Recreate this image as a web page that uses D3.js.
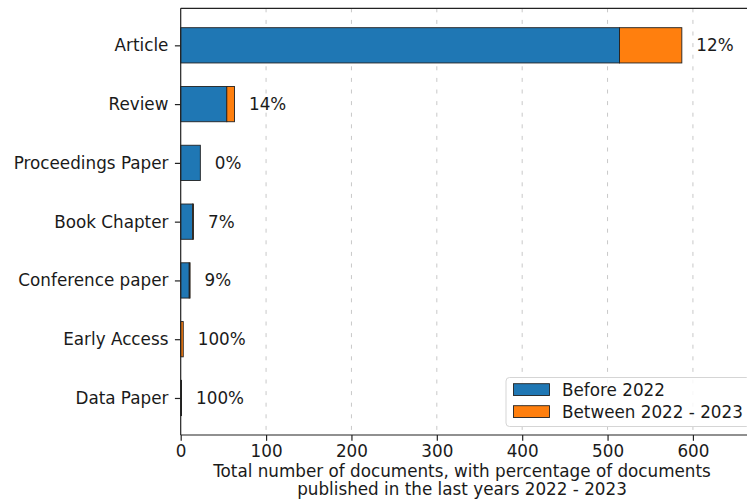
<!DOCTYPE html>
<html>
<head>
<meta charset="utf-8">
<script src="https://cdn.jsdelivr.net/npm/d3@7"></script>
<style>
  html, body { margin: 0; padding: 0; background: #fff; }
  svg { display: block; }
  text { font-family: "DejaVu Sans", sans-serif; fill: #1a1a1a; }
</style>
</head>
<body>
<svg id="chart" width="747" height="501"></svg>
<script>
// Document types and counts per period
const categories = ["Article", "Review", "Proceedings Paper", "Book Chapter", "Conference paper", "Early Access", "Data Paper"];
const before2022 = [514, 54, 23, 14, 10, 0, 0];
const between2022_2023 = [73, 9, 0, 1, 1, 3, 1];
const xTicks = [0, 100, 200, 300, 400, 500, 600];
const seriesNames = ["Before 2022", "Between 2022 - 2023"];
const seriesColors = ["#1f77b4", "#ff7f0e"];
const xLabelLines = ["Total number of documents, with percentage of documents",
                     "published in the last years 2022 - 2023"];

const svg = d3.select("#chart");
const margin = { left: 180.7, top: 8.3, right: 756, bottom: 435 };
const fontSize = 16.8;

const totals = categories.map((c, i) => before2022[i] + between2022_2023[i]);
const xMax = d3.max(totals) * 1.148;

const x = d3.scaleLinear().domain([0, xMax]).range([margin.left, margin.right]);
// category index -> vertical position, with the usual 5% margins around 0.6-wide bars
const barH = 0.6;
const y = d3.scaleLinear()
  .domain([-barH / 2 - 0.33, categories.length - 1 + barH / 2 + 0.33])
  .range([margin.top, margin.bottom]);
const bandPx = y(barH) - y(0);

// vertical dashed grid
svg.append("g").selectAll("line").data(xTicks.filter(t => t > 0)).join("line")
  .attr("x1", d => x(d)).attr("x2", d => x(d))
  .attr("y1", margin.top).attr("y2", margin.bottom)
  .attr("stroke", "#c8c8c8").attr("stroke-width", 1)
  .attr("stroke-dasharray", "4,7.6");

// stacked bars
const bars = svg.append("g");
categories.forEach((c, i) => {
  const yc = y(i);
  const segs = [
    { x0: 0, x1: before2022[i], color: seriesColors[0] },
    { x0: before2022[i], x1: totals[i], color: seriesColors[1] }
  ];
  segs.forEach(s => {
    bars.append("rect")
      .attr("x", x(s.x0)).attr("width", x(s.x1) - x(s.x0))
      .attr("y", yc - bandPx / 2).attr("height", bandPx)
      .attr("fill", s.color).attr("stroke", "#222").attr("stroke-width", 0.9);
  });
  // share of documents from 2022-2023
  const pct = totals[i] ? Math.round(between2022_2023[i] / totals[i] * 100) : 0;
  svg.append("text")
    .attr("x", x(totals[i]) + 14.5).attr("y", yc)
    .attr("dy", "0.36em").attr("font-size", fontSize)
    .text(pct + "%");
});

// axes
const xAxis = d3.axisBottom(x).tickValues(xTicks).tickSize(5.8).tickPadding(4.5).tickFormat(d3.format("d"));
const gx = svg.append("g").attr("transform", `translate(0,${margin.bottom})`).call(xAxis);
gx.select(".domain").remove();
gx.selectAll(".tick line").attr("stroke", "#222").attr("stroke-width", 1.2);
gx.selectAll(".tick text").attr("font-size", fontSize).attr("font-family", "DejaVu Sans").attr("fill", "#1a1a1a");

const yAxis = d3.axisLeft(y).tickValues(d3.range(categories.length)).tickSize(5.8).tickPadding(6.5)
  .tickFormat(i => categories[i]);
const gy = svg.append("g").attr("transform", `translate(${margin.left},0)`).call(yAxis);
gy.select(".domain").remove();
gy.selectAll(".tick line").attr("stroke", "#222").attr("stroke-width", 1.2);
gy.selectAll(".tick text").attr("font-size", fontSize).attr("font-family", "DejaVu Sans").attr("fill", "#1a1a1a");

// spines
const sp = svg.append("g").attr("stroke", "#222").attr("stroke-width", 1.2).attr("fill", "none");
sp.append("line").attr("x1", margin.left).attr("x2", margin.left).attr("y1", margin.top).attr("y2", margin.bottom);
sp.append("line").attr("x1", margin.left).attr("x2", margin.right).attr("y1", margin.bottom).attr("y2", margin.bottom);
sp.append("line").attr("x1", margin.left).attr("x2", margin.right).attr("y1", margin.top).attr("y2", margin.top);
sp.append("line").attr("x1", margin.right).attr("x2", margin.right).attr("y1", margin.top).attr("y2", margin.bottom);

// x axis title
const labelCx = 462;
xLabelLines.forEach((t, k) => {
  svg.append("text").attr("x", labelCx).attr("y", 476.5 + k * 18.5)
    .attr("text-anchor", "middle").attr("font-size", fontSize).text(t);
});

// legend, lower right
const lg = svg.append("g").attr("transform", "translate(506,377.5)");
lg.append("rect").attr("x", 0).attr("y", 0).attr("width", 244).attr("height", 49)
  .attr("rx", 3.5).attr("fill", "#fff").attr("fill-opacity", 0.85)
  .attr("stroke", "#d5d5d5").attr("stroke-width", 1);
seriesNames.forEach((n, k) => {
  const ry = 12 + k * 22;
  lg.append("rect").attr("x", 7.5).attr("y", ry - 5.8).attr("width", 36).attr("height", 11.8)
    .attr("fill", seriesColors[k]).attr("stroke", "#222").attr("stroke-width", 0.9);
  lg.append("text").attr("x", 56).attr("y", ry).attr("dy", "0.36em")
    .attr("font-size", fontSize).text(n);
});
</script>
</body>
</html>
